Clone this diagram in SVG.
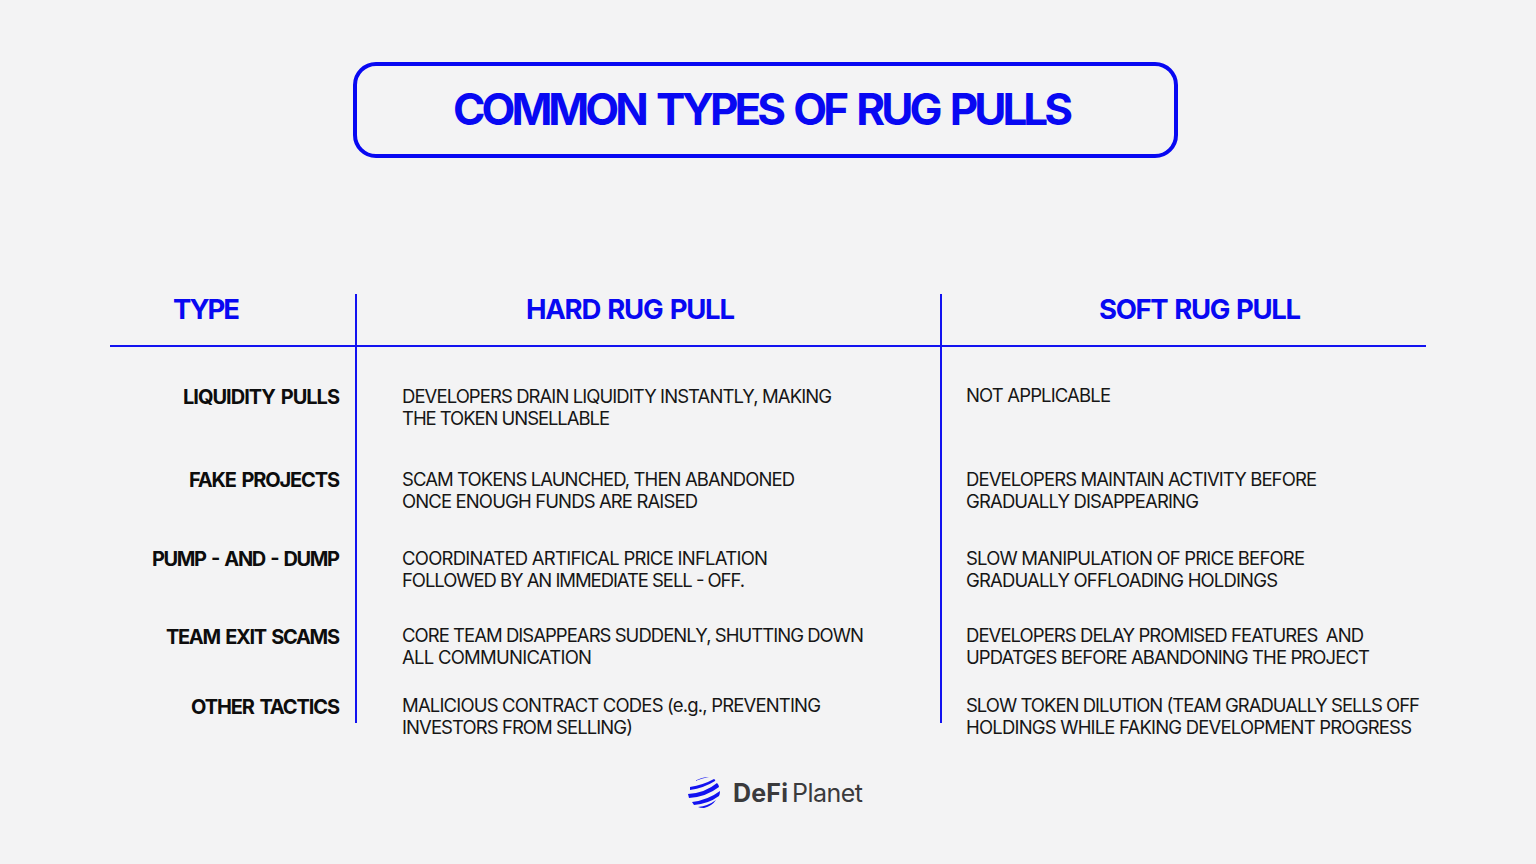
<svg xmlns="http://www.w3.org/2000/svg" width="1536" height="864" viewBox="0 0 1536 864">
<style>
text{font-family:Inter,"Liberation Sans",sans-serif;}
.title{font-size:44px;font-weight:700;fill:#0808f2;word-spacing:5px;}
.head{font-size:27.500px;font-weight:700;fill:#0808f2;word-spacing:2px;}
.row{font-size:20px;font-weight:700;fill:#0d0d0d;word-spacing:2px;}
.body{font-size:18.500px;font-weight:400;fill:#161616;}
.line{stroke:#1212f0;stroke-width:2;fill:none;}
.lg{font-size:25px;fill:#3a3a3c;}
</style>
<rect width="1536" height="864" fill="#f3f3f4"/>
<g id="title">
<rect x="355" y="64" width="821" height="92" rx="21" fill="none" stroke="#0808f2" stroke-width="4"/>
<text class="title" x="453" y="125" textLength="620">COMMON TYPES OF RUG PULLS</text>
</g>
<g id="connectors">
<line class="line" x1="110" y1="346" x2="1426" y2="346"/>
<line class="line" x1="356" y1="294" x2="356" y2="723"/>
<line class="line" x1="941" y1="294" x2="941" y2="723"/>
</g>
<g id="header">
<text class="head" x="173" y="319" textLength="67">TYPE</text>
<text class="head" x="526" y="319" textLength="209">HARD RUG PULL</text>
<text class="head" x="1099" y="319" textLength="202">SOFT RUG PULL</text>
</g>
<g id="row-liquidity">
<text class="row" x="183" y="404" textLength="157">LIQUIDITY PULLS</text>
<text class="body" x="402" y="403" textLength="430">DEVELOPERS DRAIN LIQUIDITY INSTANTLY, MAKING</text>
<text class="body" x="402" y="425" textLength="208">THE TOKEN UNSELLABLE</text>
<text class="body" x="966" y="402" textLength="145">NOT APPLICABLE</text>
</g>
<g id="row-fake">
<text class="row" x="189" y="487" textLength="151">FAKE PROJECTS</text>
<text class="body" x="402" y="486" textLength="393">SCAM TOKENS LAUNCHED, THEN ABANDONED</text>
<text class="body" x="402" y="508" textLength="296">ONCE ENOUGH FUNDS ARE RAISED</text>
<text class="body" x="966" y="486" textLength="351">DEVELOPERS MAINTAIN ACTIVITY BEFORE</text>
<text class="body" x="966" y="508" textLength="233">GRADUALLY DISAPPEARING</text>
</g>
<g id="row-pump">
<text class="row" x="152" y="566" textLength="188">PUMP - AND - DUMP</text>
<text class="body" x="402" y="565" textLength="366">COORDINATED ARTIFICAL PRICE INFLATION</text>
<text class="body" x="402" y="587" textLength="343">FOLLOWED BY AN IMMEDIATE SELL - OFF.</text>
<text class="body" x="966" y="565" textLength="339">SLOW MANIPULATION OF PRICE BEFORE</text>
<text class="body" x="966" y="587" textLength="312">GRADUALLY OFFLOADING HOLDINGS</text>
</g>
<g id="row-team">
<text class="row" x="166" y="644" textLength="174">TEAM EXIT SCAMS</text>
<text class="body" x="402" y="642" textLength="462">CORE TEAM DISAPPEARS SUDDENLY, SHUTTING DOWN</text>
<text class="body" x="402" y="664" textLength="190">ALL COMMUNICATION</text>
<text class="body" x="966" y="642" textLength="398" xml:space="preserve">DEVELOPERS DELAY PROMISED FEATURES  AND</text>
<text class="body" x="966" y="664" textLength="404">UPDATGES BEFORE ABANDONING THE PROJECT</text>
</g>
<g id="row-other">
<text class="row" x="191" y="714" textLength="149">OTHER TACTICS</text>
<text class="body" x="402" y="712" textLength="419">MALICIOUS CONTRACT CODES (e.g., PREVENTING</text>
<text class="body" x="402" y="734" textLength="231">INVESTORS FROM SELLING)</text>
<text class="body" x="966" y="712" textLength="454">SLOW TOKEN DILUTION (TEAM GRADUALLY SELLS OFF</text>
<text class="body" x="966" y="734" textLength="446">HOLDINGS WHILE FAKING DEVELOPMENT PROGRESS</text>
</g>
<g id="logo">
<g fill="#1212f0">
<path d="M695 781Q702 777 709 777Q703 778 695 781Z"/>
<path d="M690 787Q703 785 714 779Q716 780 715 781Q704 788 690 790Z"/>
<path d="M688 794Q705 793 717 783Q719 785 719 787Q706 797 689 798Z"/>
<path d="M692 802Q708 800 720 791Q720 794 719 796Q708 804 694 805Z"/>
<path d="M698 807Q708 806 716 800Q712 806 704 808Q700 808 698 807Z"/>
</g>
<text class="lg" x="733" y="802" font-weight="700" textLength="55">DeFi</text>
<text class="lg" x="792" y="802" font-weight="400" textLength="71">Planet</text>
</g>
</svg>
